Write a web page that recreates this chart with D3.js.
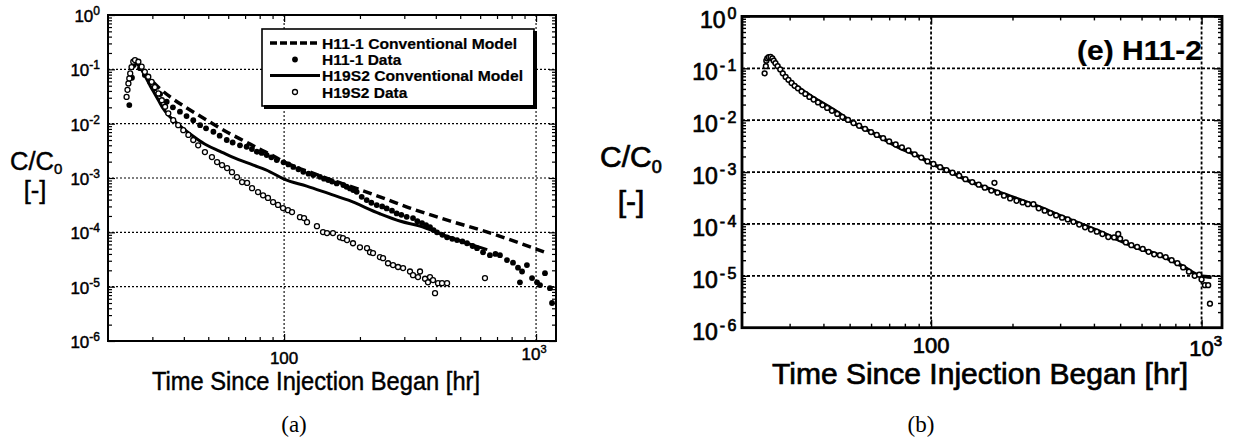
<!DOCTYPE html>
<html><head><meta charset="utf-8">
<script src="https://cdn.jsdelivr.net/npm/d3@7"></script>
<style>
body{margin:0;background:#fff}
svg{display:block}
text{font-family:"Liberation Sans",Arial,Helvetica,sans-serif;fill:#000;stroke:#000}
</style>
</head><body>
<svg id="chart" width="1235" height="444"></svg>
<script>
// ---------- DATA (t in hr, C/C0) ----------
const yTickExps = [0, -1, -2, -3, -4, -5, -6];
const yGridValues = [1e-1, 1e-2, 1e-3, 1e-4, 1e-5];
const xGridValues = [100, 1000];
const xMinorTicks = [30, 40, 50, 60, 70, 80, 90, 200, 300, 400, 500, 600, 700, 800, 900];
const xLabelPlain = "100";
const xLabelPow = {base: "10", exp: "3"};

const legendLabels = ["H11-1 Conventional Model", "H11-1 Data", "H19S2 Conventional Model", "H19S2 Data"];

const h11_1_model = [[25.5,0.14],[26.5,0.12],[28,0.085],[30,0.06],[32,0.045],[35,0.032],[40,0.021],[45,0.015],[50,0.0112],[60,0.0068],[70,0.0047],[80,0.0034],[90,0.0026],[100,0.00198],[130,0.00123],[170,0.00079],[200,0.00061],[240,0.00045],[316,0.00028],[468,0.000156],[637,0.000102],[863,6.3e-5],[1075,4.35e-5]];

const h11_1_data = [[24.3,0.022],[24.9,0.07],[25.3,0.12],[25.8,0.14],[26.8,0.105],[28,0.079],[29.4,0.058],[30.7,0.045],[32.2,0.035],[34.2,0.0253],[36.2,0.02],[38.6,0.0166],[41,0.0138],[43.6,0.0116],[46.4,0.0094],[49,0.0082],[52.4,0.0071],[55.5,0.006],[59.2,0.005],[62.5,0.0045],[66.8,0.004],[71,0.00376],[74.5,0.0034],[77.9,0.00304],[81.5,0.0029],[85.3,0.00264],[89,0.0024],[93.5,0.00214],[99.5,0.00194],[104,0.00178],[108.8,0.0016],[114,0.00145],[119.2,0.0013],[125,0.0012],[130.6,0.00113],[138.8,0.00105],[144,0.00097],[149.7,0.000915],[155,0.00086],[161.7,0.000795],[171.8,0.00074],[177,0.00069],[182.6,0.000643],[188,0.0006],[194.1,0.000557],[203.2,0.000451],[212.7,0.000392],[222,0.00035],[233.1,0.000317],[245,0.0003],[255.4,0.000275],[268,0.00025],[279.8,0.000223],[292,0.00021],[306.6,0.000193],[324.8,0.000183],[338,0.00016],[352.7,0.000148],[366,0.000135],[379.4,0.000125],[392,0.00011],[404.5,0.0001],[425,9e-5],[443.4,8.1e-5],[465,7.6e-5],[485.7,7.2e-5],[510,6.8e-5],[532.2,6.3e-5],[560,5.6e-5],[583.2,5.1e-5],[616,4.3e-5],[656,3.8e-5],[690,4.0e-5],[719,3.8e-5],[766.7,3.08e-5],[810,2.77e-5],[848,2.24e-5],[863,1.2e-5],[880,1.9e-5],[920,2.5e-5],[964,1.44e-5],[1009,1.2e-5],[1037,1.07e-5],[1085,1.77e-5],[1135,9.4e-6],[1157,5.0e-6]];

const h19s2_model = [[25.6,0.145],[26.5,0.12],[27.5,0.09],[28.5,0.066],[29.4,0.05],[30.5,0.037],[32,0.025],[33.1,0.019],[34.2,0.0155],[36.3,0.0117],[38.5,0.0092],[41.6,0.0069],[45,0.0053],[49,0.0041],[55.7,0.0031],[62.8,0.0024],[75.5,0.00172],[87.9,0.0013],[100,0.00095],[123,0.00071],[150,0.00052],[180,0.00039],[240,0.00022],[290,0.00016],[346,0.00013],[450,8.2e-5],[550,6.0e-5],[640,4.8e-5]];

const h19s2_data = [[23.7,0.031],[23.9,0.042],[24.1,0.055],[24.3,0.068],[24.5,0.084],[24.8,0.11],[25.2,0.138],[25.6,0.148],[26.4,0.138],[27.2,0.112],[28.0,0.09],[28.9,0.073],[29.8,0.059],[30.7,0.047],[31.7,0.036],[32.7,0.027],[33.7,0.0205],[34.7,0.0155],[36.3,0.0116],[38.0,0.0094],[39.8,0.0076],[41.7,0.0062],[43.6,0.005],[45.6,0.004],[48.5,0.003],[51.7,0.00243],[54.2,0.00196],[56.7,0.00173],[59.4,0.00152],[62.1,0.00128],[65.0,0.00104],[68.1,0.00084],[71.3,0.00081],[74.6,0.00065],[78.8,0.00055],[82.5,0.00048],[86.3,0.00043],[90.4,0.00036],[94.6,0.00032],[99,0.00028],[103.6,0.000256],[107.5,0.000236],[115.6,0.00019],[120,0.000183],[123.3,0.000154],[135,0.00013],[142.7,0.000101],[148,9.7e-5],[156.3,9.7e-5],[166.6,8.1e-5],[171.3,7.8e-5],[177.7,7.2e-5],[187.7,6.3e-5],[200,5.3e-5],[213.4,5.1e-5],[219.3,4.3e-5],[225.4,4.15e-5],[240,3.5e-5],[247,3.35e-5],[258.5,2.7e-5],[270.6,2.5e-5],[283.3,2.3e-5],[296.6,2.2e-5],[316,1.9e-5],[324.8,1.63e-5],[340,1.5e-5],[346.3,1.9e-5],[362.6,1.4e-5],[372.5,1.2e-5],[379.4,1.5e-5],[390,1.32e-5],[397.2,7.6e-6],[408.3,1.16e-5],[423.5,1.16e-5],[443.4,1.16e-5],[627,1.44e-5]];

const h11_2_model = [[24.5,0.14],[25.2,0.167],[26.2,0.14],[27.7,0.095],[29.3,0.065],[32.85,0.04],[36.8,0.027],[43.6,0.0158],[51.7,0.0088],[61.3,0.0056],[76.9,0.0029],[88.6,0.0021],[100,0.00147],[117.6,0.00102],[135.6,0.0007],[180,0.0004],[239,0.000235],[317,0.000128],[421,7.1e-5],[560,3.7e-5],[743,2.2e-5],[856,1.5e-5],[986,1.0e-5],[1089,9.4e-6]];

const h11_2_data = [[24.25,0.08],[24.5,0.11],[24.6,0.14],[24.8,0.155],[25.1,0.163],[25.5,0.165],[25.9,0.155],[26.2,0.14],[26.6,0.125],[27.1,0.11],[27.7,0.095],[28.3,0.08],[29.0,0.068],[29.7,0.06],[30.5,0.052],[31.3,0.046],[32.2,0.041],[33.2,0.036],[34.3,0.032],[35.5,0.028],[36.8,0.025],[38.2,0.022],[39.7,0.0195],[41.3,0.0172],[43,0.0152],[45,0.0132],[47,0.0115],[49.3,0.0101],[51.7,0.0088],[54.2,0.0078],[57,0.0068],[60,0.0059],[63,0.0052],[66.5,0.0045],[70,0.0039],[74,0.0034],[78,0.003],[82.5,0.0026],[87,0.0022],[92,0.0019],[97,0.0016],[102,0.00143],[108,0.00124],[114,0.00109],[120,0.00097],[127,0.00085],[134,0.00073],[142,0.00064],[150,0.00057],[158,0.0005],[167,0.00044],[171.5,0.00062],[176,0.0004],[186,0.00035],[196,0.00031],[207,0.00028],[218,0.00026],[228,0.00024],[239,0.00024],[250,0.0002],[263,0.00018],[276,0.000162],[290,0.000146],[305,0.000132],[320,0.000122],[336,0.00011],[353,9.7e-5],[371,8.6e-5],[390,7.8e-5],[410,7.1e-5],[430,6.4e-5],[452,5.6e-5],[475,5.5e-5],[492,6.4e-5],[500,5.2e-5],[525,4.4e-5],[550,3.9e-5],[578,3.6e-5],[606,3.3e-5],[637,2.9e-5],[668,2.6e-5],[702,2.5e-5],[737,2.3e-5],[775,2.0e-5],[814,1.75e-5],[855,1.45e-5],[898,1.2e-5],[943,1.0e-5],[980,1.05e-5],[1000,8.5e-6],[1029,6.6e-6],[1058,6.6e-6],[1074,2.9e-6]];

// ---------- DRAWING ----------
const svg = d3.select("#chart");

function makePanel(o) {
  const x = d3.scaleLog().domain(o.xDomain).range([o.left, o.right]);
  const y = d3.scaleLog().domain([1e-6, 1]).range([o.bottom, o.top]);
  const g = svg.append("g");

  // grid
  g.append("g").selectAll("line").data(yGridValues).join("line")
    .attr("x1", o.left).attr("x2", o.right).attr("y1", d => y(d)).attr("y2", d => y(d))
    .attr("stroke", "#000").attr("stroke-width", o.gridW).attr("stroke-dasharray", o.gridDash);
  g.append("g").selectAll("line").data(xGridValues).join("line")
    .attr("y1", o.top).attr("y2", o.bottom).attr("x1", d => x(d)).attr("x2", d => x(d))
    .attr("stroke", "#000").attr("stroke-width", o.gridW).attr("stroke-dasharray", o.gridDash);

  // ticks via d3 axes
  const isDecade = v => Math.abs(Math.log10(v) - Math.round(Math.log10(v))) <= 1e-6;
  const yMinor = y.ticks().filter(v => !isDecade(v));
  const yMajor = y.ticks().filter(isDecade);
  const clean = s => { s.select(".domain").remove(); s.selectAll("line").attr("stroke", "#000").attr("stroke-width", o.tickW); };
  g.append("g").attr("transform", `translate(0,${o.bottom})`).call(d3.axisBottom(x).tickValues(xMinorTicks).tickSize(-o.tick).tickFormat("")).call(clean);
  g.append("g").attr("transform", `translate(0,${o.top})`).call(d3.axisTop(x).tickValues(xMinorTicks).tickSize(-o.tick).tickFormat("")).call(clean);
  g.append("g").attr("transform", `translate(0,${o.bottom})`).call(d3.axisBottom(x).tickValues(xGridValues).tickSize(-o.tickMajor).tickFormat("")).call(clean);
  g.append("g").attr("transform", `translate(0,${o.top})`).call(d3.axisTop(x).tickValues(xGridValues).tickSize(-o.tickMajor).tickFormat("")).call(clean);
  g.append("g").attr("transform", `translate(${o.left},0)`).call(d3.axisLeft(y).tickValues(yMinor).tickSize(-o.tick).tickFormat("")).call(clean);
  g.append("g").attr("transform", `translate(${o.right},0)`).call(d3.axisRight(y).tickValues(yMinor).tickSize(-o.tick).tickFormat("")).call(clean);
  g.append("g").attr("transform", `translate(${o.left},0)`).call(d3.axisLeft(y).tickValues(yMajor).tickSize(-o.tickMajor).tickFormat("")).call(clean);
  g.append("g").attr("transform", `translate(${o.right},0)`).call(d3.axisRight(y).tickValues(yMajor).tickSize(-o.tickMajor).tickFormat("")).call(clean);

  // y tick labels
  g.append("g").selectAll("text").data(yTickExps).join("text")
    .attr("x", o.yLabX).attr("y", d => y(Math.pow(10, d)) + o.yLabDy)
    .attr("text-anchor", "end").attr("font-size", o.yLabFs).attr("stroke-width", o.ts)
    .each(function(d) {
      const t = d3.select(this);
      t.append("tspan").text("10");
      t.append("tspan").attr("dx", o.supDx).attr("dy", -o.supDy).attr("font-size", o.supFs)
        .attr("letter-spacing", o.supLs).text(String(d));
    });

  // x tick labels
  g.append("text").attr("x", x(100)).attr("y", o.xLabY).attr("text-anchor", "middle")
    .attr("font-size", o.xLabFs).attr("stroke-width", o.ts).text(xLabelPlain);
  const p = g.append("text").attr("x", x(1000) + o.powDx).attr("y", o.xLabY + o.powDy).attr("text-anchor", "middle")
    .attr("font-size", o.powFs).attr("stroke-width", o.ts);
  p.append("tspan").text(xLabelPow.base);
  p.append("tspan").attr("dy", -o.powSupDy).attr("font-size", o.powSupFs).text(xLabelPow.exp);

  // axis titles
  g.append("text").attr("x", o.titleX).attr("y", o.titleY).attr("font-size", o.titleFs)
    .attr("textLength", o.titleLen).attr("lengthAdjust", "spacingAndGlyphs").attr("stroke-width", o.ts)
    .text("Time Since Injection Began [hr]");
  const yl = g.append("text").attr("x", o.ylX).attr("y", o.ylY).attr("font-size", o.ylFs).attr("stroke-width", o.ts);
  yl.append("tspan").text("C/C");
  yl.append("tspan").attr("dy", o.subDy).attr("font-size", o.subFs).text("0");
  g.append("text").attr("x", o.brX).attr("y", o.brY).attr("font-size", o.ylFs).attr("stroke-width", o.ts)
    .attr("text-anchor", "middle").text("[-]");

  // caption
  g.append("text").attr("x", o.capX).attr("y", 432).attr("text-anchor", "middle").attr("stroke-width", 0)
    .attr("font-size", 23).style("font-family", '"Liberation Serif","Times New Roman",serif').text(o.caption);

  const plot = g.append("g");
  // frame
  g.append("rect").attr("x", o.left).attr("y", o.top).attr("width", o.right - o.left).attr("height", o.bottom - o.top)
    .attr("fill", "none").attr("stroke", "#000").attr("stroke-width", o.frameW);

  return {x, y, g: plot};
}

const line = (x, y) => d3.line().x(d => x(d[0])).y(d => y(d[1])).curve(d3.curveMonotoneX);

// ----- Panel (a) -----
const A = makePanel({
  xDomain: [20, 1200], left: 108, right: 556, top: 15, bottom: 341,
  gridW: 1.1, gridDash: "2,2", tick: 4, tickMajor: 7, tickW: 1.2, frameW: 2, ts: 0.45,
  yLabX: 100, yLabDy: 7, yLabFs: 17, supFs: 12, supDy: 7, supDx: 0, supLs: 0,
  xLabY: 364, xLabFs: 17, powDx: -2, powDy: -4, powFs: 17, powSupFs: 11, powSupDy: 7,
  titleX: 152, titleY: 390, titleFs: 25.5, titleLen: 328,
  ylX: 10, ylY: 170, ylFs: 25.5, subDy: 4, subFs: 15, brX: 35, brY: 199,
  capX: 294, caption: "(a)"
});
A.g.append("path").datum(h11_1_model).attr("d", line(A.x, A.y)).attr("fill", "none")
  .attr("stroke", "#000").attr("stroke-width", 3.5).attr("stroke-dasharray", "9,5");
A.g.append("path").datum(h19s2_model).attr("d", line(A.x, A.y)).attr("fill", "none")
  .attr("stroke", "#000").attr("stroke-width", 3);
A.g.append("g").selectAll("circle").data(h11_1_data).join("circle")
  .attr("cx", d => A.x(d[0])).attr("cy", d => A.y(d[1])).attr("r", 2.9).attr("fill", "#000");
A.g.append("g").selectAll("circle").data(h19s2_data).join("circle")
  .attr("cx", d => A.x(d[0])).attr("cy", d => A.y(d[1])).attr("r", 2.5)
  .attr("fill", "#fff").attr("stroke", "#000").attr("stroke-width", 1.3);

// legend
const lg = svg.append("g");
lg.append("rect").attr("x", 262).attr("y", 29).attr("width", 272).attr("height", 77)
  .attr("fill", "#fff").attr("stroke", "#000").attr("stroke-width", 1.6);
lg.append("line").attr("x1", 535).attr("x2", 535).attr("y1", 31).attr("y2", 108).attr("stroke", "#000").attr("stroke-width", 4);
lg.append("line").attr("x1", 264).attr("x2", 537).attr("y1", 107).attr("y2", 107).attr("stroke", "#000").attr("stroke-width", 4);
const rowY = [43, 59.5, 75.5, 92];
const rowLen = [195, 0, 201, 0];
legendLabels.forEach((lab, i) => {
  const t = lg.append("text").attr("x", 322).attr("y", rowY[i] + 5.5).attr("font-size", 15.5)
    .attr("font-weight", "bold").attr("stroke-width", 0.2).text(lab);
  if (rowLen[i]) t.attr("textLength", rowLen[i]).attr("lengthAdjust", "spacingAndGlyphs");
});
lg.append("line").attr("x1", 270).attr("x2", 320).attr("y1", rowY[0]).attr("y2", rowY[0])
  .attr("stroke", "#000").attr("stroke-width", 3.5).attr("stroke-dasharray", "7,3");
lg.append("circle").attr("cx", 295).attr("cy", rowY[1]).attr("r", 2.9).attr("fill", "#000");
lg.append("line").attr("x1", 270).attr("x2", 320).attr("y1", rowY[2]).attr("y2", rowY[2])
  .attr("stroke", "#000").attr("stroke-width", 3);
lg.append("circle").attr("cx", 295).attr("cy", rowY[3]).attr("r", 2.5).attr("fill", "#fff")
  .attr("stroke", "#000").attr("stroke-width", 1.3);

// ----- Panel (b) -----
const B = makePanel({
  xDomain: [20, 1190], left: 742, right: 1222, top: 16.4, bottom: 327.7,
  gridW: 1.8, gridDash: "3,2", tick: 4, tickMajor: 8, tickW: 1.4, frameW: 2.8, ts: 0.7,
  yLabX: 739, yLabDy: 12, yLabFs: 23, supFs: 16, supDy: 9, supDx: 2, supLs: 2.5,
  xLabY: 353, xLabFs: 22, powDx: 4, powDy: 3, powFs: 22, powSupFs: 15, powSupDy: 10,
  titleX: 772, titleY: 384, titleFs: 30, titleLen: 416,
  ylX: 600, ylY: 166.7, ylFs: 30, subDy: 6, subFs: 18, brX: 631, brY: 212,
  capX: 921, caption: "(b)"
});
B.g.append("path").datum(h11_2_model).attr("d", line(B.x, B.y)).attr("fill", "none")
  .attr("stroke", "#000").attr("stroke-width", 3.6);
B.g.append("g").selectAll("circle").data(h11_2_data).join("circle")
  .attr("cx", d => B.x(d[0])).attr("cy", d => B.y(d[1])).attr("r", 2.4)
  .attr("fill", "#fff").attr("stroke", "#000").attr("stroke-width", 1.5);
svg.append("text").attr("x", 1202).attr("y", 60).attr("text-anchor", "end").attr("font-size", 27)
  .attr("font-weight", "bold").attr("stroke-width", 0.2)
  .attr("textLength", 125).attr("lengthAdjust", "spacingAndGlyphs").text("(e) H11-2");
</script>
</body></html>
